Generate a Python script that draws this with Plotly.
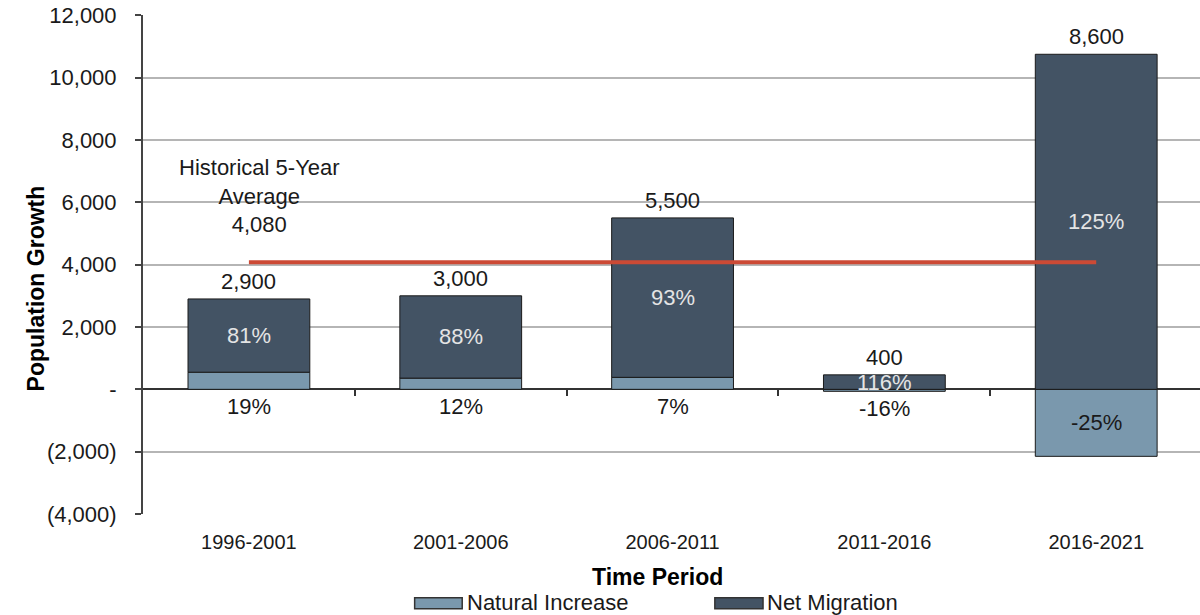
import plotly.graph_objects as go

periods = ["1996-2001", "2001-2006", "2006-2011", "2011-2016", "2016-2021"]
natural_increase = [550, 360, 385, -64, -2150]
net_migration = [2350, 2640, 5115, 464, 10750]
total_labels = ["2,900", "3,000", "5,500", "400", "8,600"]
natural_pct = ["19%", "12%", "7%", "-16%", "-25%"]
migration_pct = ["81%", "88%", "93%", "116%", "125%"]
hist_avg = 4080
hist_avg_label = "4,080"
series_names = ["Natural Increase", "Net Migration"]

y_tickvals = [-4000, -2000, 0, 2000, 4000, 6000, 8000, 10000, 12000]
y_ticktext = ["(4,000)", "(2,000)", "-", "2,000", "4,000", "6,000", "8,000", "10,000", "12,000"]

FONT = "Liberation Sans, Arial, sans-serif"
C_NAT = "#7a98ad"
C_MIG = "#435364"
C_LINE = "#cc4a35"
colors = [C_NAT, C_MIG]

fig = go.Figure()
fig.add_trace(go.Bar(x=periods, y=natural_increase, name=series_names[0],
                     marker=dict(color=C_NAT, line=dict(color="#1a1a1a", width=1)),
                     width=0.575, hoverinfo="skip", showlegend=False))
fig.add_trace(go.Bar(x=periods, y=net_migration, name=series_names[1],
                     marker=dict(color=C_MIG, line=dict(color="#1a1a1a", width=1)),
                     width=0.575, hoverinfo="skip", showlegend=False))
fig.add_trace(go.Scatter(x=[periods[0], periods[-1]], y=[hist_avg, hist_avg], mode="lines",
                         line=dict(color=C_LINE, width=4), showlegend=False, hoverinfo="skip"))
# invisible helper trace for the category axis drawn at zero
fig.add_trace(go.Scatter(x=[0, 4], y=[0, 0], xaxis="x2", mode="markers",
                         marker=dict(opacity=0), showlegend=False, hoverinfo="skip"))

ann = []
for i, p in enumerate(periods):
    nat = natural_increase[i]
    mig = net_migration[i]
    base = max(nat, 0)
    top = base + mig
    ann.append(dict(x=p, y=top, text=total_labels[i], showarrow=False, yanchor="bottom",
                    yshift=3, font=dict(size=22, color="#1a1a1a", family=FONT)))
    ann.append(dict(x=p, y=base + mig / 2, text=migration_pct[i], showarrow=False,
                    yanchor="middle", font=dict(size=22, color="#e4e4e4", family=FONT)))
    if abs(nat) > 1000:
        ann.append(dict(x=p, y=nat / 2, text=natural_pct[i], showarrow=False,
                        yanchor="middle", font=dict(size=22, color="#1a1a1a", family=FONT)))
    else:
        ann.append(dict(x=p, y=min(nat, 0), text=natural_pct[i], showarrow=False,
                        yanchor="top", yshift=-3, font=dict(size=22, color="#1a1a1a", family=FONT)))

ann.append(dict(x=periods[0], y=6200, xshift=11, text="Historical 5-Year<br>Average<br>" + hist_avg_label,
                showarrow=False, yanchor="middle", font=dict(size=22, color="#1a1a1a", family=FONT)))
ann.append(dict(xref="paper", yref="paper", x=-0.115, y=0.453, text="<b>Population Growth</b>",
                textangle=-90, showarrow=False, font=dict(size=23, color="#000", family=FONT)))
ann.append(dict(xref="paper", yref="paper", x=0.487, y=-0.126, text="<b>Time Period</b>",
                showarrow=False, yanchor="middle", font=dict(size=23, color="#000", family=FONT)))

# custom legend (wide rectangular swatches like the reference)
legend_sym_x = [(0.257, 0.302), (0.541, 0.5866)]
legend_text_x = [0.3046, 0.5885]
shapes = []
for k in range(2):
    x0, x1 = legend_sym_x[k]
    shapes.append(dict(type="rect", xref="paper", yref="paper", x0=x0, x1=x1, y0=-0.190, y1=-0.168,
                       fillcolor=colors[k], line=dict(color="#333", width=1.5)))
    ann.append(dict(xref="paper", yref="paper", x=legend_text_x[k], y=-0.178, text=series_names[k],
                    xanchor="left", yanchor="middle", showarrow=False,
                    font=dict(size=22, color="#1a1a1a", family=FONT)))

fig.update_layout(
    width=1200, height=615,
    margin=dict(l=143, r=0, t=15, b=101, autoexpand=False),
    barmode="relative",
    bargap=0.425,
    plot_bgcolor="white", paper_bgcolor="white",
    font=dict(family=FONT, size=22, color="#1a1a1a"),
    showlegend=False,
    annotations=ann,
    shapes=shapes,
    xaxis=dict(type="category", range=[-0.5, 4.49], showgrid=False, showline=False,
               zeroline=False, ticks="", ticklabelstandoff=14, automargin=False,
               tickfont=dict(size=20, color="#1a1a1a")),
    xaxis2=dict(overlaying="x", anchor="free", position=0.25, range=[-0.5, 4.49],
                tickvals=[0.5, 1.5, 2.5, 3.5], ticks="outside", ticklen=6, tickwidth=2,
                tickcolor="#333", showticklabels=False, showgrid=False, showline=False,
                zeroline=False, automargin=False),
    yaxis=dict(range=[-4000, 12010], tickvals=y_tickvals, ticktext=y_ticktext,
               showgrid=True, gridcolor="#b5b5b5", gridwidth=2,
               zeroline=True, zerolinecolor="#333", zerolinewidth=2,
               showline=True, linecolor="#444", linewidth=2,
               ticks="outside", ticklen=6, tickwidth=2, tickcolor="#444", automargin=False,
               ticklabeloverflow="allow",
               ticklabelstandoff=14, tickfont=dict(size=22, color="#1a1a1a")),
)

# remove the default 8px page margin so the 1200x615 figure fills the window exactly
fig.write_html("out.html", config={"displayModeBar": False},
               post_script="document.body.style.margin='0';")
